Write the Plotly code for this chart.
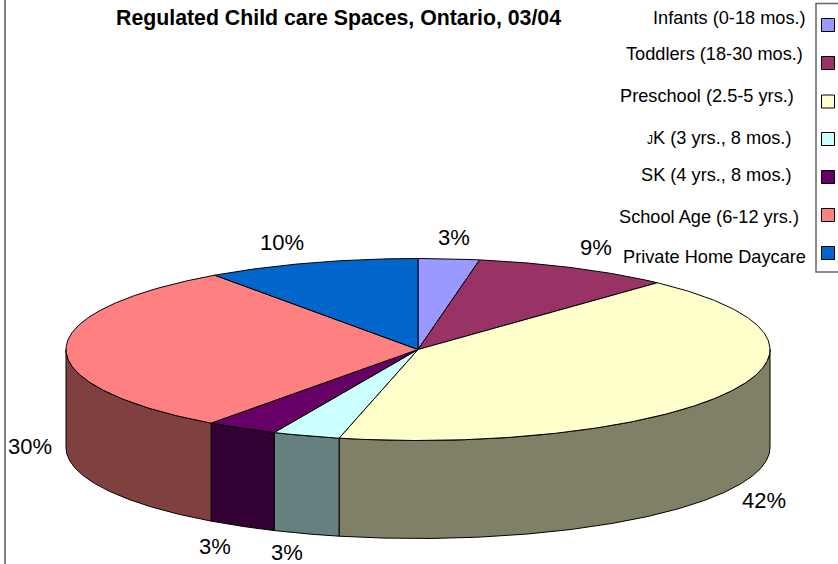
import numpy as np
import plotly.graph_objects as go

# ---- data ----
categories = ["Infants (0-18 mos.)", "Toddlers (18-30 mos.)", "Preschool (2.5-5 yrs.)",
              "JK (3 yrs., 8 mos.)", "SK (4 yrs., 8 mos.)", "School Age (6-12 yrs.)",
              "Private Home Daycare"]
values = [2.8, 9.1, 41.7, 3.1, 3.3, 30.2, 9.8]
top_colors = ["#9999FF", "#993366", "#FFFFCC", "#CCFFFF", "#660066", "#FF8080", "#0066CC"]
side_colors = ["#4D4D80", "#4D1A33", "#808066", "#668080", "#330033", "#804040", "#003366"]
title_text = "Regulated Child care Spaces, Ontario, 03/04"

# ---- layout of the drawing ----
W, H = 838, 564
CX, CY, RX, RY, DEPTH = 418, 349.5, 352, 91, 98
pct_pos = [(454, 237), (596, 247), (764, 500), (287, 552), (215, 546), (30, 446), (282, 242)]
legend_text_pos = [(808, 18), (805, 54), (796, 96), (793, 138), (794, 175), (801, 217), (808, 257)]
swatch_y = [25, 63, 101.5, 139, 177, 215, 253]
FONT = "Liberation Sans, Arial, sans-serif"


def rim(a, b, dy=0.0):
    t = np.radians(np.linspace(a, b, max(int(abs(b - a) * 2), 2)))
    return CX + RX * np.sin(t), CY - RY * np.cos(t) + dy


fig = go.Figure()
edges = 360 * np.concatenate([[0], np.cumsum(values)]) / sum(values)

# side walls (only the front half of the rim is visible)
for i, name in enumerate(categories):
    a, b = max(edges[i], 90), min(edges[i + 1], 270)
    if b <= a:
        continue
    x1, y1 = rim(a, b)
    x2, y2 = rim(b, a, DEPTH)
    fig.add_trace(go.Scatter(
        x=np.r_[x1, x2, x1[0]], y=np.r_[y1, y2, y1[0]], mode="lines", fill="toself",
        fillcolor=side_colors[i], line=dict(color="black", width=1),
        name=name, hoverinfo="skip", showlegend=False))

# top face
for i, name in enumerate(categories):
    x, y = rim(edges[i], edges[i + 1])
    fig.add_trace(go.Scatter(
        x=np.r_[CX, x, CX], y=np.r_[CY, y, CY], mode="lines", fill="toself",
        fillcolor=top_colors[i], line=dict(color="black", width=1),
        name=name, hoverinfo="skip", showlegend=False))

annotations = [dict(x=338.5, y=18, text=f"<b>{title_text}</b>", showarrow=False, xanchor="center",
                    yanchor="middle", font=dict(family=FONT, size=21.3, color="black"))]
for v, (px, py) in zip(values, pct_pos):
    annotations.append(dict(x=px, y=py, text=f"{v:.0f}%", showarrow=False, xanchor="center",
                            yanchor="middle", font=dict(family=FONT, size=22, color="black")))
for name, (px, py) in zip(categories, legend_text_pos):
    shown = name.replace("JK", '<span style="font-size:12px">J</span>K')
    annotations.append(dict(x=px, y=py, text=shown, showarrow=False, xanchor="right",
                            yanchor="middle", font=dict(family=FONT, size=18.2, color="black")))

shapes = [
    dict(type="line", x0=5, x1=5, y0=0, y1=H, line=dict(color="#555555", width=1.5)),
    dict(type="rect", x0=816, x1=H + W, y0=3.5, y1=272, line=dict(color="#666666", width=1.5)),
]
for c, sy in zip(top_colors, swatch_y):
    shapes.append(dict(type="rect", x0=821.5, x1=834.5, y0=sy - 6.5, y1=sy + 6.5, fillcolor=c,
                       line=dict(color="black", width=1)))

fig.update_layout(
    width=W, height=H, margin=dict(l=0, r=0, t=0, b=0),
    paper_bgcolor="white", plot_bgcolor="white", showlegend=False,
    xaxis=dict(range=[0, W], visible=False, fixedrange=True),
    yaxis=dict(range=[H, 0], visible=False, fixedrange=True),
    annotations=annotations, shapes=shapes)

fig.write_html("out.html", config={"displayModeBar": False},
               post_script="document.body.style.margin='0';document.body.style.overflow='hidden';")
